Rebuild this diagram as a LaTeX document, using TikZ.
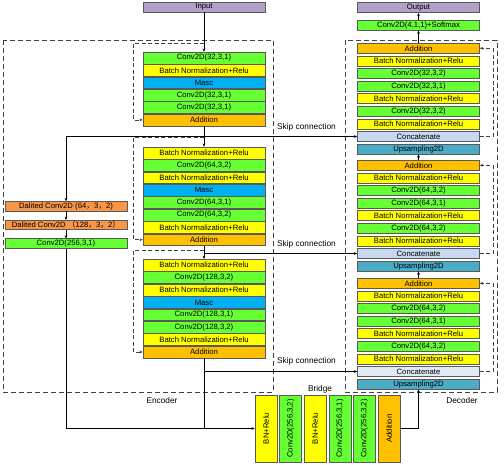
\documentclass[tikz,border=0pt]{standalone}
\usepackage{fontspec}
\setmainfont{Liberation Sans}
\newfontfamily\cjk{Noto Sans CJK SC}
\usepackage{graphicx}
\usetikzlibrary{arrows.meta, positioning, calc}
\definecolor{cgreen}{RGB}{102,255,51}
\definecolor{cyellow}{RGB}{255,255,0}
\definecolor{cblue}{RGB}{0,176,240}
\definecolor{corange}{RGB}{255,192,0}
\definecolor{csalmon}{RGB}{247,150,70}
\definecolor{cpurple}{RGB}{177,160,199}
\definecolor{ccat}{RGB}{198,217,240}
\definecolor{ccatl}{RGB}{226,234,246}
\definecolor{cup}{RGB}{75,172,198}
\newcommand\boxfont{\fontsize{7.7}{8.5}\selectfont}
\tikzset{
  base/.style = {draw=black!65, line width=0.6pt, inner sep=0pt, font=\boxfont,
                 minimum width=122pt, minimum height=11.8pt},
  cv/.style   = {base, fill=cgreen},
  bn/.style   = {base, fill=cyellow},
  ms/.style   = {base, fill=cblue},
  ad/.style   = {base, fill=corange},
  io/.style   = {base, fill=cpurple, minimum height=10pt},
  dl/.style   = {base, fill=csalmon, minimum height=9.5pt},
  ct/.style   = {base, fill=ccat},
  up/.style   = {base, fill=cup},
  dk/.style   = {minimum height=10pt},
  brb/.style  = {base, minimum width=22pt, minimum height=67pt},
  lbl/.style  = {font=\fontsize{8.3}{9}\selectfont, inner sep=1pt},
  fl/.style   = {-{Stealth[length=3.2pt,width=2.8pt]}, line width=0.6pt},
  ln/.style   = {line width=0.6pt},
  res/.style  = {fl, black!75, dash pattern=on 4pt off 2.5pt},
  frm/.style  = {black!75, line width=0.7pt, dash pattern=on 5pt off 3pt},
}
\begin{document}
\begin{tikzpicture}[x=1pt, y=-1pt]
  \useasboundingbox (0,0) rectangle (504,464);
  % frames
  \draw[frm] (3,40) rectangle (273,392);
  \draw[frm] (345,40) rectangle (497,392);
  \node[lbl] (enc) at (162,401) {Encoder};
  \node[lbl] (dcd) at (462,401) {Decoder};
  \node[lbl] (brg) at (320,389) {Bridge};

  % encoder
  \node[io] (inp) at (204,7) {Input};
  \node[cv, anchor=north] (e1a) at (204,51.7) {Conv2D(32,3,1)};
  \node[bn, below=0pt of e1a] (e1b) {Batch Normalization+Relu};
  \node[ms, below=0pt of e1b] (e1c) {Masc};
  \node[cv, below=0pt of e1c] (e1d) {Conv2D(32,3,1)};
  \node[cv, below=0pt of e1d] (e1e) {Conv2D(32,3,1)};
  \node[ad, below=0pt of e1e] (e1f) {Addition};

  \node[bn, anchor=north] (e2a) at (204,146.7) {Batch Normalization+Relu};
  \node[cv, below=0pt of e2a] (e2b) {Conv2D(64,3,2)};
  \node[bn, below=0pt of e2b] (e2c) {Batch Normalization+Relu};
  \node[ms, below=0pt of e2c] (e2d) {Masc};
  \node[cv, below=0pt of e2d] (e2e) {Conv2D(64,3,1)};
  \node[cv, below=0pt of e2e] (e2f) {Conv2D(64,3,2)};
  \node[bn, below=0pt of e2f] (e2g) {Batch Normalization+Relu};
  \node[ad, below=0pt of e2g] (e2h) {Addition};

  \node[bn, anchor=north] (e3a) at (204,259) {Batch Normalization+Relu};
  \node[cv, below=0pt of e3a] (e3b) {Conv2D(128,3,2)};
  \node[bn, below=0pt of e3b] (e3c) {Batch Normalization+Relu};
  \node[ms, below=0pt of e3c] (e3d) {Masc};
  \node[cv, below=0pt of e3d] (e3e) {Conv2D(128,3,1)};
  \node[cv, below=0pt of e3e] (e3f) {Conv2D(128,3,2)};
  \node[bn, below=0pt of e3f] (e3g) {Batch Normalization+Relu};
  \node[ad, below=0pt of e3g] (e3h) {Addition};

  % dilated branch
  \node[dl] (dl1) at (66,206.2) {Dalited Conv2D (64{\cjk ，}3{\cjk ，}2)};
  \node[dl] (dl2) at (66,225) {Dalited Conv2D {\cjk （}128{\cjk ，}3{\cjk ，}2{\cjk ）}};
  \node[cv, minimum height=9.5pt] (dl3) at (66,243.5) {Conv2D(256,3,1)};

  % decoder
  \node[io] (out) at (418.5,7.7) {Output};
  \node[cv, minimum height=9.5pt] (sm) at (418.5,25.5) {Conv2D(4,1,1)+Softmax};

  \node[ad, dk, anchor=north] (d1add) at (418.5,43) {Addition};
  \node[bn, dk, below=2pt of d1add] (d1b) {Batch Normalization+Relu};
  \node[cv, dk, below=2pt of d1b] (d1c) {Conv2D(32,3,2)};
  \node[cv, dk, below=2pt of d1c] (d1d) {Conv2D(32,3,1)};
  \node[bn, dk, below=2pt of d1d] (d1e) {Batch Normalization+Relu};
  \node[cv, dk, below=2pt of d1e] (d1f) {Conv2D(32,3,2)};
  \node[bn, dk, below=2pt of d1f] (d1g) {Batch Normalization+Relu};
  \node[ct, dk, below=2pt of d1g] (d1cat) {Concatenate};
  \node[up, dk, below=2pt of d1cat] (d1up) {Upsampling2D};

  \node[ad, dk, anchor=north] (d2add) at (418.5,160) {Addition};
  \node[bn, dk, below=2pt of d2add] (d2b) {Batch Normalization+Relu};
  \node[cv, dk, below=2pt of d2b] (d2c) {Conv2D(64,3,2)};
  \node[cv, dk, below=2pt of d2c] (d2d) {Conv2D(64,3,1)};
  \node[bn, dk, below=2pt of d2d] (d2e) {Batch Normalization+Relu};
  \node[cv, dk, below=2pt of d2e] (d2f) {Conv2D(64,3,2)};
  \node[bn, dk, below=2pt of d2f] (d2g) {Batch Normalization+Relu};
  \node[ct, dk, below=2pt of d2g] (d2cat) {Concatenate};
  \node[up, dk, below=2pt of d2cat] (d2up) {Upsampling2D};

  \node[ad, dk, anchor=north] (d3add) at (418.5,278) {Addition};
  \node[bn, dk, below=2pt of d3add] (d3b) {Batch Normalization+Relu};
  \node[cv, dk, below=2pt of d3b] (d3c) {Conv2D(64,3,2)};
  \node[cv, dk, below=2pt of d3c] (d3d) {Conv2D(64,3,1)};
  \node[bn, dk, below=2pt of d3d] (d3e) {Batch Normalization+Relu};
  \node[cv, dk, below=2pt of d3e] (d3f) {Conv2D(64,3,2)};
  \node[bn, dk, below=2pt of d3f] (d3g) {Batch Normalization+Relu};
  \node[ct, dk, fill=ccatl, below=2pt of d3g] (d3cat) {Concatenate};
  \node[up, dk, below=2pt of d3cat] (d3up) {Upsampling2D};

  % bridge
  \node[brb, fill=cyellow] (br1) at (266,428.5) {\rotatebox{90}{BN+Relu}};
  \node[brb, fill=cgreen, right=2pt of br1] (br2) {\rotatebox{90}{Conv2D(256,3,2)}};
  \node[brb, fill=cyellow, right=2pt of br2] (br3) {\rotatebox{90}{BN+Relu}};
  \node[brb, fill=cgreen, right=2pt of br3] (br4) {\rotatebox{90}{Conv2D(256,3,1)}};
  \node[brb, fill=cgreen, right=2pt of br4] (br5) {\rotatebox{90}{Conv2D(256,3,2)}};
  \node[brb, fill=corange, right=2pt of br5] (br6) {\rotatebox{90}{Addition}};

  % main path
  \draw[fl] (inp) -- (e1a);
  \draw[fl] (e1f) -- (e2a);
  \draw[fl] (e2h) -- (e3a);
  \draw[ln] (e3h.south) -- (e3h.south |- br1.west);
  \draw[fl] (dl1) -- (dl2); \draw[fl] (dl2) -- (dl3);
  \draw[fl] (dl3.south) -- (dl3.south |- br1.west) -- (br1.west);
  \draw[fl] (br6.east) -| (d3up.south);
  \draw[fl] (d3add) -- (d2up); \draw[fl] (d2add) -- (d1up);
  \draw[fl] (d1add) -- (sm); \draw[fl] (sm) -- (out);

  % skip connections
  \coordinate (s1) at (dl1.north |- d1cat.west);
  \draw[fl] (s1) -- (d1cat.west);
  \draw[fl] (s1) -- (dl1.north);
  \draw[fl] (e2h.south |- d2cat.west) -- (d2cat.west);
  \draw[fl] (e3h.south |- d3cat.west) -- (d3cat.west);
  \node[lbl, anchor=south west] (sk1) at (276,132) {Skip connection};
  \node[lbl, anchor=south west] (sk2) at (276,249) {Skip connection};
  \node[lbl, anchor=south west] (sk3) at (276,366) {Skip connection};

  % residual paths
  \coordinate (r1) at (204,43);
  \coordinate (r2) at (204,137);
  \coordinate (r3) at (204,250);
  \draw[res] (r1) -- ++(-71,0) |- (e1f.west);
  \draw[res] (r2) -- ++(-71,0) |- (e2h.west);
  \draw[res] (r3) -- ++(-71,0) |- (e3h.west);
  \draw[res] (d1cat.east) -- ++(13,0) |- (d1add.east);
  \draw[res] (d2cat.east) -- ++(13,0) |- (d2add.east);
  \draw[res] (d3cat.east) -- ++(13,0) |- (d3add.east);
\end{tikzpicture}
\end{document}
